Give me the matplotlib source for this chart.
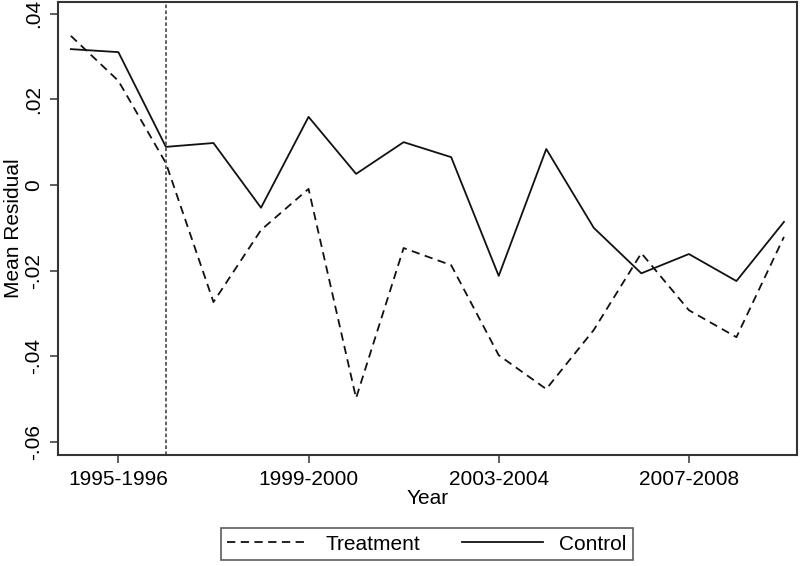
import matplotlib
matplotlib.use("Agg")
import matplotlib.pyplot as plt
from matplotlib.ticker import FuncFormatter

years = ["1994-1995", "1995-1996", "1996-1997", "1997-1998", "1998-1999",
         "1999-2000", "2000-2001", "2001-2002", "2002-2003", "2003-2004",
         "2004-2005", "2005-2006", "2006-2007", "2007-2008", "2008-2009",
         "2009-2010"]
treatment = [0.0348, 0.0243, 0.0051, -0.0273, -0.0105, -0.0009, -0.0497, -0.0147,
             -0.0187, -0.0397, -0.0476, -0.0338, -0.0159, -0.0292, -0.0355, -0.0121]
control = [0.0317, 0.0310, 0.0089, 0.0098, -0.0053, 0.0159, 0.0026, 0.0100,
           0.0065, -0.0212, 0.0084, -0.0100, -0.0206, -0.0161, -0.0224, -0.0086]
tick_years = ["1995-1996", "1999-2000", "2003-2004", "2007-2008"]
y_ticks = [-0.06, -0.04, -0.02, 0.0, 0.02, 0.04]
event_year = "1996-1997"

plt.rcParams['font.family'] = ['Liberation Sans', 'DejaVu Sans']

fig = plt.figure(figsize=(8, 5.66), dpi=100)
ax = fig.add_axes([0.0725, 0.196, 0.9235, 0.8005])

x = list(range(len(years)))
lt, = ax.plot(x, treatment, color='#111111', lw=1.3, linestyle=(0, (4.6, 3.0)), label='Treatment')
lc, = ax.plot(x, control, color='#111111', lw=1.3, linestyle='-', label='Control')
ax.axvline(years.index(event_year), color='#555555', lw=1.3, linestyle=(0, (2.0, 1.3)))

ax.set_xlim(-0.27, 15.27)
ax.set_ylim(-0.063, 0.0427)
ax.set_xticks([years.index(t) for t in tick_years])
ax.set_xticklabels(tick_years)
ax.set_yticks(y_ticks)

def fmt(v, pos):
    if abs(v) < 1e-12:
        return "0"
    s = f"{v:.2f}"
    return s.replace("0.", ".")
ax.yaxis.set_major_formatter(FuncFormatter(fmt))

ax.tick_params(axis='both', labelsize=15, length=6, width=1.1, color='#333333', pad=5)
plt.setp(ax.get_yticklabels(), rotation=90, va='center')
for sp in ax.spines.values():
    sp.set_color('#333333')
    sp.set_linewidth(1.5)

ax.set_xlabel("Year", fontsize=15, labelpad=0)
ax.set_ylabel("Mean Residual", fontsize=15)
ax.yaxis.set_label_coords(-0.0475, 0.5)

leg = fig.legend(handles=[lt, lc], loc='center', bbox_to_anchor=(427/800, 1 - 544/566),
                 ncol=2, fontsize=15, frameon=True, fancybox=False, edgecolor='#333333',
                 handlelength=3.9, columnspacing=2.0, handletextpad=0.8,
                 borderpad=0.3, borderaxespad=0)
leg.get_frame().set_linewidth(1.2)

fig.savefig("out.png", dpi=100)
